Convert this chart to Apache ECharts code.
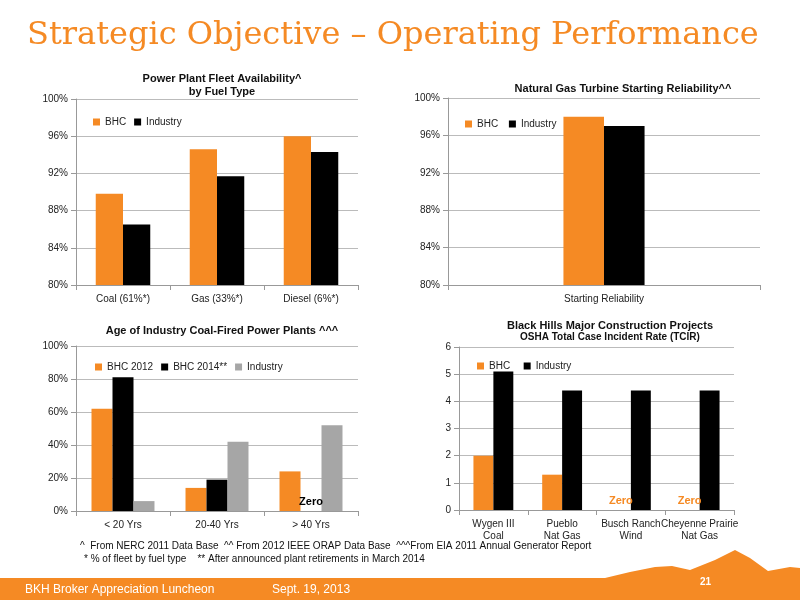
<!DOCTYPE html>
<html lang="en">
<head>
<meta charset="UTF-8">
<title>Strategic Objective - Operating Performance</title>
<script src="https://cdn.jsdelivr.net/npm/echarts@6/dist/echarts.min.js"></script>
<style>
  html, body { margin: 0; padding: 0; background: #fff; }
  #chart { width: 800px; height: 600px; }
</style>
</head>
<body>
<div id="chart"></div>
<script>
// chart 1: fleet availability
var fuelTypes = ['Coal (61%*)', 'Gas (33%*)', 'Diesel (6%*)'];
var availBHC = [89.8, 94.6, 96.0];
var availIndustry = [86.5, 91.7, 94.3];
// chart 2: starting reliability
var startCats = ['Starting Reliability'];
var startBHC = [98.0];
var startIndustry = [97.0];
// chart 3: plant age
var ageCats = ['< 20 Yrs', '20-40 Yrs', '> 40 Yrs'];
var age2012 = [62, 14, 24];
var age2014 = [81, 19, 0];
var ageIndustry = [6, 42, 52];
// chart 4: TCIR
var projects = ['Wygen III\nCoal', 'Pueblo\nNat Gas', 'Busch Ranch\nWind', 'Cheyenne Prairie\nNat Gas'];
var tcirBHC = [2.0, 1.3, 0, 0];
var tcirIndustry = [5.1, 4.4, 4.4, 4.4];

var ORANGE = '#f58a24', BLACK = '#000000', GREY = '#a6a6a6';
var font = 'Liberation Sans, Arial, sans-serif';

function xAx(idx, data) {
  return { gridIndex: idx, type: 'category', data: data,
    axisLine: { lineStyle: { color: '#999' } },
    axisTick: { show: true, lineStyle: { color: '#999' } },
    axisLabel: { interval: 0, color: '#222', fontSize: 10, fontFamily: font, lineHeight: 12 } };
}
function yAx(idx, min, max, interval, fmt) {
  return { gridIndex: idx, type: 'value', min: min, max: max, interval: interval,
    axisLine: { show: true, lineStyle: { color: '#999' } },
    axisTick: { show: true, lineStyle: { color: '#999' } },
    splitLine: { lineStyle: { color: '#bbb' } },
    axisLabel: { color: '#222', fontSize: 10, fontFamily: font, formatter: fmt } };
}
function bar(name, x, data, color, gap, extra) {
  var s = { name: name, type: 'bar', xAxisIndex: x, yAxisIndex: x, data: data,
    itemStyle: { color: color }, barGap: '0%', barCategoryGap: gap, silent: true };
  return Object.assign(s, extra || {});
}
function legend(left, top, names) {
  return { left: left, top: top, itemWidth: 7, itemHeight: 7, itemGap: 8, icon: 'rect',
    data: names, textStyle: { fontSize: 10, fontFamily: font, color: '#222' },
    selectedMode: false };
}
var pct = '{value}%';
var zeroLabel = { show: true, position: 'top', distance: 4, color: ORANGE, fontWeight: 'bold',
  fontSize: 11, fontFamily: font, formatter: function (p) { return p.value === 0 ? 'Zero' : ''; } };

var chart = echarts.init(document.getElementById('chart'));
chart.setOption({
  animation: false,
  textStyle: { fontFamily: font },
  title: [
    { text: 'Strategic Objective – Operating Performance', left: 22, top: 15,
      textStyle: { color: ORANGE, fontSize: 32, fontWeight: 'normal', fontFamily: 'DejaVu Serif, serif' } },
    { text: 'Power Plant Fleet Availability^\nby Fuel Type', left: 217, top: 67, textAlign: 'center',
      textStyle: { fontSize: 11, fontWeight: 'bold', lineHeight: 13, color: '#111' } },
    { text: 'Natural Gas Turbine Starting Reliability^^', left: 618, top: 78, textAlign: 'center',
      textStyle: { fontSize: 11, fontWeight: 'bold', color: '#111' } },
    { text: 'Age of Industry Coal-Fired Power Plants ^^^', left: 217, top: 320, textAlign: 'center',
      textStyle: { fontSize: 11, fontWeight: 'bold', color: '#111' } },
    { text: 'Black Hills Major Construction Projects', left: 605, top: 315, textAlign: 'center',
      textStyle: { fontSize: 11, fontWeight: 'bold', color: '#111' },
      subtext: 'OSHA Total Case Incident Rate (TCIR)', itemGap: 1,
      subtextStyle: { fontSize: 10, fontWeight: 'bold', color: '#111' } }
  ],
  legend: [
    legend(88, 112, ['BHC', 'Industry']),
    legend(460, 114, ['BHC ', 'Industry ']),
    legend(90, 357, ['BHC 2012', 'BHC 2014**', 'Industry  ']),
    legend(472, 356, ['BHC  ', 'Industry   '])
  ],
  grid: [
    { left: 76, top: 99, width: 282, height: 186 },
    { left: 448, top: 98, width: 312, height: 187 },
    { left: 76, top: 346, width: 282, height: 165 },
    { left: 459, top: 347, width: 275, height: 163 }
  ],
  xAxis: [xAx(0, fuelTypes), xAx(1, startCats), xAx(2, ageCats), xAx(3, projects)],
  yAxis: [yAx(0, 80, 100, 4, pct), yAx(1, 80, 100, 4, pct), yAx(2, 0, 100, 20, pct), yAx(3, 0, 6, 1, '{value}')],
  series: [
    bar('BHC', 0, availBHC, ORANGE, '42%'),
    bar('Industry', 0, availIndustry, BLACK, '42%'),
    bar('BHC ', 1, startBHC, ORANGE, '74%'),
    bar('Industry ', 1, startIndustry, BLACK, '74%'),
    bar('BHC 2012', 2, age2012, ORANGE, '33%'),
    bar('BHC 2014**', 2, age2014, BLACK, '33%', { label: Object.assign({}, zeroLabel, { color: '#000' }) }),
    bar('Industry  ', 2, ageIndustry, GREY, '33%'),
    bar('BHC  ', 3, tcirBHC, ORANGE, '42%', { label: zeroLabel }),
    bar('Industry   ', 3, tcirIndustry, BLACK, '42%')
  ],
  graphic: [
    { type: 'text', left: 80, top: 541, style: { text: '^  From NERC 2011 Data Base  ^^ From 2012 IEEE ORAP Data Base  ^^^From EIA 2011 Annual Generator Report',
      fontSize: 10, fontFamily: font, fill: '#111' } },
    { type: 'text', left: 84, top: 554, style: { text: '* % of fleet by fuel type    ** After announced plant retirements in March 2014',
      fontSize: 10, fontFamily: font, fill: '#111' } },
    { type: 'polygon', shape: { points: [[0, 578], [605, 578], [630, 572], [655, 567], [672, 566], [690, 570], [715, 560], [735, 550], [750, 558], [768, 571], [790, 567], [800, 568], [800, 600], [0, 600]] },
      style: { fill: ORANGE }, z: 10 },
    { type: 'text', left: 25, top: 584, z: 11, style: { text: 'BKH Broker Appreciation Luncheon', fontSize: 12, fontFamily: font, fill: '#fff' } },
    { type: 'text', left: 272, top: 584, z: 11, style: { text: 'Sept. 19, 2013', fontSize: 12, fontFamily: font, fill: '#fff' } },
    { type: 'text', left: 700, top: 577, z: 11, style: { text: '21', fontSize: 10, fontWeight: 'bold', fontFamily: font, fill: '#fff' } }
  ]
});
</script>
</body>
</html>
